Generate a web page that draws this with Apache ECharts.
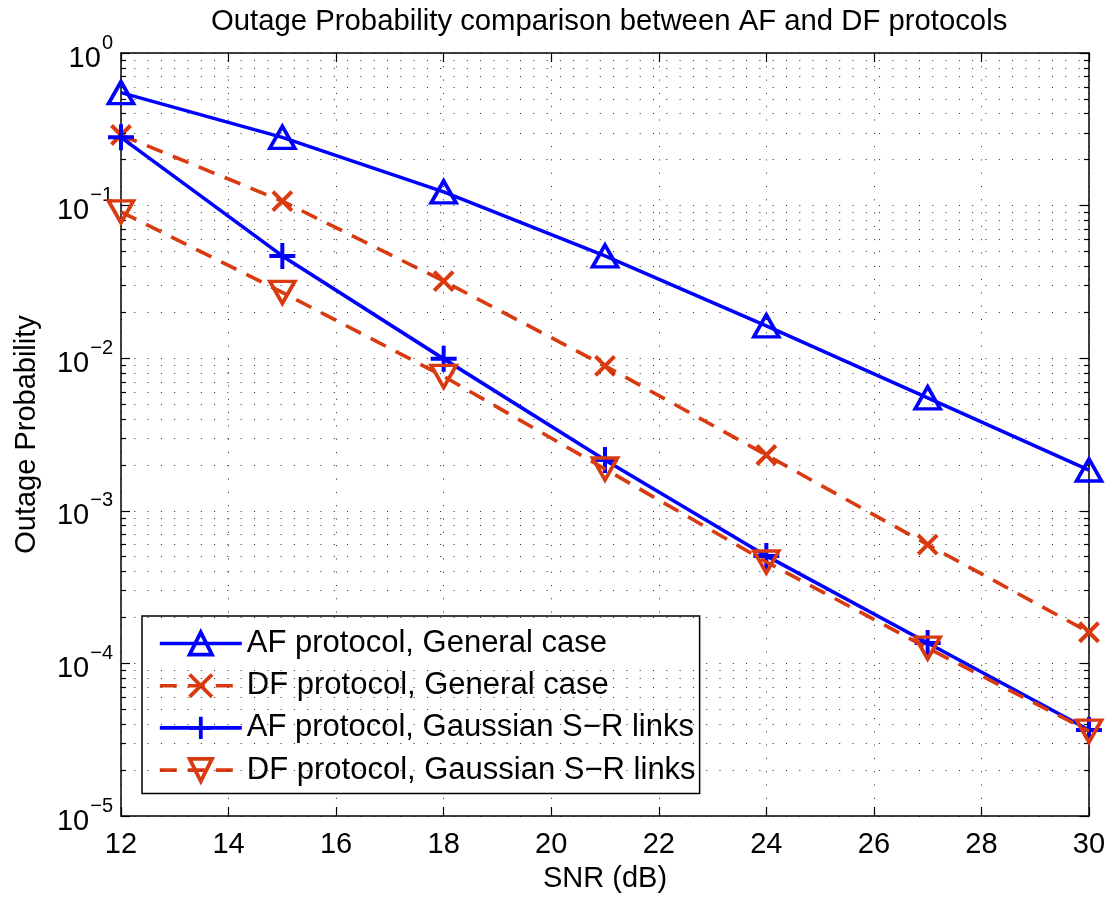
<!DOCTYPE html>
<html>
<head>
<meta charset="utf-8">
<script src="https://cdn.jsdelivr.net/npm/echarts@6/dist/echarts.min.js"></script>
<style>html,body{margin:0;padding:0;background:#fff}#c{width:1115px;height:899px}</style>
</head>
<body>
<div id="c"></div>
<script>
const snr = [12, 15, 18, 21, 24, 27, 30];
const afGeneral = [0.55, 0.28, 0.123, 0.0468, 0.0163, 0.0055, 0.00185];
const dfGeneral = [0.29, 0.107, 0.032, 0.0089, 0.00232, 0.0006, 0.00016];
const afGaussian = [0.28, 0.0468, 0.0099, 0.00215, 0.000506, 0.000136, 0.0000366];
const dfGaussian = [0.091, 0.027, 0.0076, 0.00188, 0.000462, 0.000126, 0.000036];
const seriesNames = ['AF protocol, General case', 'DF protocol, General case', 'AF protocol, Gaussian S\u2212R links', 'DF protocol, Gaussian S\u2212R links'];
const xTicks = [12, 14, 16, 18, 20, 22, 24, 26, 28, 30];
const yExponents = [-5, -4, -3, -2, -1, 0];
const minorMultipliers = [2, 3, 4, 5, 6, 7, 8, 9];

const FONT = 'Liberation Sans, Arial, Helvetica, sans-serif';
const BLUE = '#0000ff';
const RED = '#d93a0f';
const xMin = xTicks[0], xMax = xTicks[xTicks.length - 1];
const yMin = Math.pow(10, yExponents[0]), yMax = Math.pow(10, yExponents[yExponents.length - 1]);

const pair = (xs, ys) => xs.map((x, i) => [x, ys[i]]);
const minorVals = [];
for (let k = yExponents[0]; k < yExponents[yExponents.length - 1]; k++) {
  minorMultipliers.forEach(m => minorVals.push(m * Math.pow(10, k)));
}
const tickLenX = 0.093;
const dotStyle = { color: '#222', width: 1, type: [1, 12.3] };
const DASH = [17, 11];
const LW = 3.6;

const legendStyles = [
  { color: BLUE, type: 'solid' },
  { color: RED, type: DASH },
  { color: BLUE, type: 'solid' },
  { color: RED, type: DASH }
];

const chart = echarts.init(document.getElementById('c'), null, { renderer: 'canvas' });
const option = {
  animation: false,
  backgroundColor: '#fff',
  textStyle: { fontFamily: FONT },
  title: {
    text: 'Outage Probability comparison between AF and DF protocols',
    left: 206, top: 2,
    textStyle: { fontFamily: FONT, fontSize: 29.3, fontWeight: 'normal', color: '#000' }
  },
  grid: { left: 121, right: 26, top: 53, bottom: 83 },
  legend: {
    data: seriesNames.map((n, i) => ({
      name: n,
      lineStyle: { color: legendStyles[i].color, width: LW, type: legendStyles[i].type },
      itemStyle: { color: 'none', borderColor: legendStyles[i].color, borderWidth: 3.8 }
    })),
    orient: 'vertical',
    left: 142, top: 616,
    padding: [12, 4, 8, 16],
    itemWidth: 82, itemHeight: 28, itemGap: 11.2,
    backgroundColor: '#fff',
    borderColor: '#000', borderWidth: 1.5, borderRadius: 0,
    textStyle: { fontFamily: FONT, fontSize: 31, color: '#000', lineHeight: 28 }
  },
  xAxis: [{
    type: 'value', min: xMin, max: xMax, interval: 2,
    name: 'SNR (dB)', nameLocation: 'middle', nameGap: 48,
    nameTextStyle: { fontFamily: FONT, fontSize: 29, color: '#000' },
    axisLine: { lineStyle: { color: '#000', width: 1.5 } },
    axisTick: { inside: true, length: 9, lineStyle: { color: '#000', width: 1.2 } },
    axisLabel: { margin: 14, fontFamily: FONT, fontSize: 29, color: '#000' },
    splitLine: { show: true, lineStyle: dotStyle }
  }, {
    type: 'value', position: 'top', min: xMin, max: xMax, interval: 2,
    axisLine: { lineStyle: { color: '#000', width: 1.5 } },
    axisTick: { inside: true, length: 9, lineStyle: { color: '#000', width: 1.2 } },
    axisLabel: { show: false }, splitLine: { show: false }
  }],
  yAxis: [{
    type: 'log', logBase: 10, min: yMin, max: yMax, interval: 1,
    name: 'Outage Probability', nameLocation: 'middle', nameGap: 80,
    nameTextStyle: { fontFamily: FONT, fontSize: 29, color: '#000' },
    axisLine: { show: true, lineStyle: { color: '#000', width: 1.5 } },
    axisTick: { inside: true, length: 9, lineStyle: { color: '#000', width: 1.2 } },
    axisLabel: {
      margin: 8, color: '#000',
      formatter: v => '{b|10}{e|' + String(Math.round(Math.log10(v))).replace('-', '\u2212') + '}',
      rich: {
        b: { fontFamily: FONT, fontSize: 29, color: '#000', lineHeight: 40, verticalAlign: 'bottom' },
        e: { fontFamily: FONT, fontSize: 20, color: '#000', lineHeight: 40, verticalAlign: 'top', padding: [0, 0, 0, 1] }
      }
    },
    splitLine: { show: true, lineStyle: dotStyle }
  }, {
    type: 'log', logBase: 10, min: yMin, max: yMax, interval: 1, position: 'right',
    axisLine: { show: true, lineStyle: { color: '#000', width: 1.5 } },
    axisTick: { inside: true, length: 9, lineStyle: { color: '#000', width: 1.2 } },
    axisLabel: { show: false }, splitLine: { show: false }
  }],
  series: [
    {
      name: 'minor-grid', type: 'line', data: [], silent: true, z: 1,
      markLine: {
        silent: true, symbol: ['none', 'none'], label: { show: false }, animation: false,
        lineStyle: dotStyle,
        data: minorVals.map(v => [{ coord: [xMin, v] }, { coord: [xMax, v] }])
      }
    },
    {
      name: 'minor-ticks', type: 'line', data: [], silent: true, z: 1,
      markLine: {
        silent: true, symbol: ['none', 'none'], label: { show: false }, animation: false,
        lineStyle: { color: '#000', width: 1.2, type: 'solid' },
        data: minorVals.map(v => [{ coord: [xMin, v] }, { coord: [xMin + tickLenX, v] }])
          .concat(minorVals.map(v => [{ coord: [xMax - tickLenX, v] }, { coord: [xMax, v] }]))
      }
    },
    {
      name: seriesNames[0], type: 'line', data: pair(snr, afGeneral), z: 5,
      symbol: 'triangle', symbolSize: [25, 22], showAllSymbol: true,
      lineStyle: { color: BLUE, width: LW, type: 'solid' },
      itemStyle: { color: 'none', borderColor: BLUE, borderWidth: 3.6 }
    },
    {
      name: seriesNames[1], type: 'line', data: pair(snr, dfGeneral), z: 4,
      symbol: 'path://M0,0L20,20M20,0L0,20', symbolSize: 19,
      lineStyle: { color: RED, width: LW, type: DASH },
      itemStyle: { color: 'none', borderColor: RED, borderWidth: 4 }
    },
    {
      name: seriesNames[2], type: 'line', data: pair(snr, afGaussian), z: 5,
      symbol: 'path://M13,0L13,26M0,13L26,13', symbolSize: 26,
      lineStyle: { color: BLUE, width: LW, type: 'solid' },
      itemStyle: { color: 'none', borderColor: BLUE, borderWidth: 4 }
    },
    {
      name: seriesNames[3], type: 'line', data: pair(snr, dfGaussian), z: 6,
      symbol: 'path://M0,0L25,0L12.5,22Z', symbolSize: [25, 22],
      lineStyle: { color: RED, width: LW, type: DASH },
      itemStyle: { color: 'none', borderColor: RED, borderWidth: 3.6 }
    }
  ]
};
chart.setOption(option);
</script>
</body>
</html>
